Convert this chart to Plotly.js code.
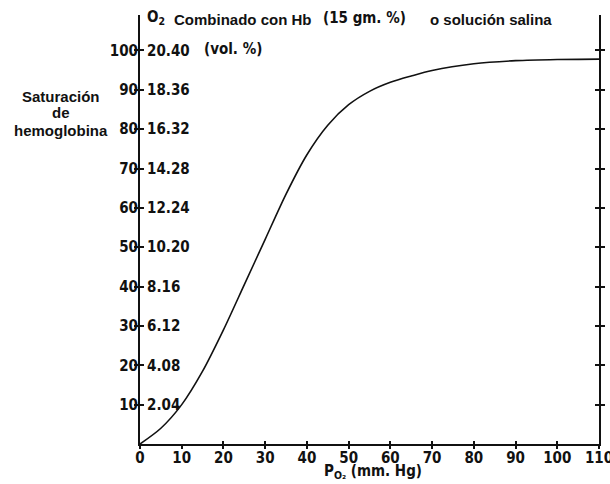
<!DOCTYPE html>
<html>
<head>
<meta charset="utf-8">
<script src="https://cdn.plot.ly/plotly-3.0.1.min.js"></script>
<style>html,body{margin:0;padding:0;background:#fff;}#chart{width:610px;height:484px;}</style>
</head>
<body>
<div id="chart"></div>
<script>
// Data (PO2 mm Hg vs % saturation)
const po2 = [0, 5, 10, 15, 20, 25, 30, 35, 40, 45, 50, 55, 60, 65, 70, 80, 90, 100, 110];
const saturation = [0, 4, 10, 18.5, 29, 40.5, 52, 63.5, 73.5, 81, 86.2, 89.6, 91.9, 93.5, 94.9, 96.6, 97.4, 97.7, 97.8];
const xTicks = [0, 10, 20, 30, 40, 50, 60, 70, 80, 90, 100, 110];
const satTicks = [10, 20, 30, 40, 50, 60, 70, 80, 90, 100];
const volTickText = ['2.04', '4.08', '6.12', '8.16', '10.20', '12.24', '14.28', '16.32', '18.36', '20.40'];

const NARROW = '"Liberation Sans Narrow", "DejaVu Sans Condensed", "Arial Narrow", sans-serif';
const SANS = '"Liberation Sans", Arial, sans-serif';
const narrowFont = {family: NARROW, size: 15, color: '#111', weight: 'bold'};
const sansFont = {family: SANS, size: 15, color: '#111', weight: 'bold'};

const traces = [
  {x: po2, y: saturation, xaxis: 'x', yaxis: 'y', type: 'scatter', mode: 'lines',
   line: {color: '#111', width: 1.6, shape: 'spline', smoothing: 0.8}, hoverinfo: 'skip'},
  {x: po2, y: saturation, xaxis: 'x2', yaxis: 'y2', type: 'scatter', mode: 'lines',
   line: {color: 'rgba(0,0,0,0)', width: 0}, hoverinfo: 'skip'}
];

const yRange = [0, 109];
const xRange = [0, 110];

const layout = {
  width: 610, height: 484,
  margin: {l: 140, r: 11, t: 15, b: 40},
  paper_bgcolor: '#fff', plot_bgcolor: '#fff',
  showlegend: false,
  xaxis: {range: xRange, tickvals: xTicks, ticktext: xTicks.map(String),
    showline: true, linewidth: 2, linecolor: '#111', mirror: false,
    ticks: 'outside', ticklen: 3, tickwidth: 2, tickcolor: '#111', ticklabeloverflow: 'allow',
    ticklabelstandoff: -4,
    showgrid: false, zeroline: false, tickfont: narrowFont, fixedrange: true},
  xaxis2: {range: xRange, overlaying: 'x', anchor: 'y', side: 'bottom', tickvals: xTicks,
    showticklabels: false, showline: false, ticks: 'inside', ticklen: 3, tickwidth: 2,
    tickcolor: '#111', showgrid: false, zeroline: false, fixedrange: true},
  yaxis: {range: yRange, tickvals: satTicks, ticktext: satTicks.map(String),
    showline: true, linewidth: 2, linecolor: '#111', mirror: 'allticks',
    ticks: 'outside', ticklen: 4, tickwidth: 2, tickcolor: '#111', ticklabelstandoff: -7,
    showgrid: false, zeroline: false, tickfont: narrowFont, fixedrange: true},
  yaxis2: {range: yRange, overlaying: 'y', anchor: 'x', side: 'left', tickvals: satTicks,
    ticktext: volTickText, ticklabelposition: 'inside', ticklabelstandoff: 3,
    showline: false, mirror: 'allticks', ticks: 'inside', ticklen: 4, tickwidth: 2,
    tickcolor: '#111', showgrid: false, zeroline: false, tickfont: narrowFont, fixedrange: true},
  annotations: [
    {text: 'O<sub>2</sub>', xref: 'paper', yref: 'paper', x: 0.011, y: 0.995, xanchor: 'left', yanchor: 'middle', showarrow: false, font: narrowFont},
    {text: 'Combinado con Hb', xref: 'paper', yref: 'paper', x: 0.070, y: 0.990, xanchor: 'left', yanchor: 'middle', showarrow: false, font: sansFont},
    {text: '(15 gm. %)', xref: 'paper', yref: 'paper', x: 0.395, y: 0.993, xanchor: 'left', yanchor: 'middle', showarrow: false, font: narrowFont},
    {text: 'o solución salina', xref: 'paper', yref: 'paper', x: 0.628, y: 0.990, xanchor: 'left', yanchor: 'middle', showarrow: false, font: sansFont},
    {text: '(vol. %)', xref: 'paper', yref: 'paper', x: 0.135, y: 0.921, xanchor: 'left', yanchor: 'middle', showarrow: false, font: narrowFont},
    {text: 'Saturación', xref: 'paper', yref: 'paper', x: -0.172, y: 0.8089, xanchor: 'center', yanchor: 'middle', showarrow: false, font: sansFont},
    {text: 'de', xref: 'paper', yref: 'paper', x: -0.172, y: 0.7716, xanchor: 'center', yanchor: 'middle', showarrow: false, font: sansFont},
    {text: 'hemoglobina', xref: 'paper', yref: 'paper', x: -0.172, y: 0.7319, xanchor: 'center', yanchor: 'middle', showarrow: false, font: sansFont},
    {text: 'P<sub>O₂</sub> (mm. Hg)', xref: 'paper', yref: 'paper', x: 0.5076, y: -0.063, xanchor: 'center', yanchor: 'middle', showarrow: false, font: narrowFont}
  ]
};

Plotly.newPlot('chart', traces, layout, {displayModeBar: false, staticPlot: true});
</script>
</body>
</html>
